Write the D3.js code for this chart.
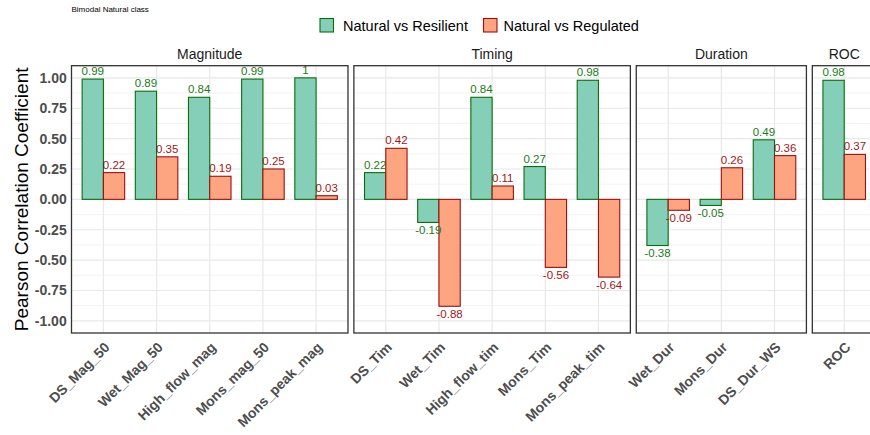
<!DOCTYPE html>
<html>
<head>
<meta charset="utf-8">
<script src="https://cdn.jsdelivr.net/npm/d3@7"></script>
<style>
  html, body { margin: 0; padding: 0; background: #fff; overflow: hidden; }
  svg { display: block; font-family: "Liberation Sans", Arial, sans-serif; }
</style>
</head>
<body>
<svg id="chart" width="870" height="435"></svg>
<script>
// Flow-metric groups (facets) and the metrics in each
const facets = ["Magnitude", "Timing", "Duration", "ROC"];
const metrics = [
  "DS_Mag_50", "Wet_Mag_50", "High_flow_mag", "Mons_mag_50", "Mons_peak_mag",
  "DS_Tim", "Wet_Tim", "High_flow_tim", "Mons_Tim", "Mons_peak_tim",
  "Wet_Dur", "Mons_Dur", "DS_Dur_WS",
  "ROC"
];
const metricFacet = [
  "Magnitude", "Magnitude", "Magnitude", "Magnitude", "Magnitude",
  "Timing", "Timing", "Timing", "Timing", "Timing",
  "Duration", "Duration", "Duration",
  "ROC"
];
// Pearson correlation coefficients
const seriesNames = ["Natural vs Resilient", "Natural vs Regulated"];
const resilient = [0.99, 0.89, 0.84, 0.99, 1, 0.22, -0.19, 0.84, 0.27, 0.98, -0.38, -0.05, 0.49, 0.98];
const regulated = [0.22, 0.35, 0.19, 0.25, 0.03, 0.42, -0.88, 0.11, -0.56, -0.64, -0.09, 0.26, 0.36, 0.37];
const yTicks = [-1, -0.75, -0.5, -0.25, 0, 0.25, 0.5, 0.75, 1];
const yMinor = [-0.875, -0.625, -0.375, -0.125, 0.125, 0.375, 0.625, 0.875];

const fills = ["#85ceb7", "#fda481"];
const strokes = ["#0a6e0a", "#9b1010"];
const labelColors = ["#1b7a1b", "#a01818"];

const svg = d3.select("#chart");

// Layout
const panelTop = 65.7, panelBottom = 333;
const firstLeft = 71.5, panelGap = 5.9, unit = 53.17;

const y = d3.scaleLinear().domain([-1.1, 1.1]).range([panelBottom, panelTop]);

// Title
svg.append("text")
  .attr("x", 71.5).attr("y", 11.7)
  .attr("font-size", 8).attr("fill", "#000")
  .text("Bimodal Natural class");

// Legend
const legendItems = [
  { key: 320, text: 343 },
  { key: 483.5, text: 503.5 }
];
seriesNames.forEach((s, i) => {
  svg.append("rect")
    .attr("x", legendItems[i].key).attr("y", 18.5)
    .attr("width", 13.5).attr("height", 13.5)
    .attr("fill", fills[i]).attr("stroke", strokes[i]).attr("stroke-width", 1.1);
  svg.append("text")
    .attr("x", legendItems[i].text).attr("y", 30.5)
    .attr("font-size", 14.5).attr("fill", "#000")
    .text(s);
});

// Y axis title
svg.append("text")
  .attr("transform", `translate(27.5,${(panelTop + panelBottom) / 2}) rotate(-90)`)
  .attr("text-anchor", "middle")
  .attr("font-size", 19).attr("fill", "#000")
  .text("Pearson Correlation Coefficient");

// Y axis tick labels
const yAxis = d3.axisLeft(y).tickValues(yTicks).tickSize(0).tickPadding(4.8)
  .tickFormat(d => (d < 0 ? "-" : "") + d3.format(".2f")(Math.abs(d)));
const yAxisG = svg.append("g").attr("transform", `translate(${firstLeft},0)`).call(yAxis);
yAxisG.select(".domain").remove();
yAxisG.selectAll("text")
  .attr("font-family", "'Liberation Sans', Arial, sans-serif")
  .attr("font-size", 14).attr("font-weight", "bold").attr("fill", "#4d4d4d");

// Panels
let left = firstLeft;
facets.forEach(facet => {
  const idx = metrics.map((m, i) => i).filter(i => metricFacet[i] === facet);
  const cats = idx.map(i => metrics[i]);
  const width = unit * (cats.length + 0.2);
  const x = d3.scaleBand().domain(cats).range([left, left + width]).paddingInner(0.2).paddingOuter(0.2);
  const xSub = d3.scaleBand().domain(seriesNames).range([0, x.bandwidth()]);

  const g = svg.append("g");
  const clipId = "clip-" + facet;
  g.append("clipPath").attr("id", clipId)
    .append("rect").attr("x", left).attr("y", panelTop).attr("width", width).attr("height", panelBottom - panelTop);

  const inner = g.append("g").attr("clip-path", `url(#${clipId})`);

  // minor gridlines
  inner.selectAll("line.minor").data(yMinor).join("line")
    .attr("x1", left).attr("x2", left + width)
    .attr("y1", d => y(d)).attr("y2", d => y(d))
    .attr("stroke", "#f0f0f0").attr("stroke-width", 0.8);
  // major gridlines
  inner.selectAll("line.major").data(yTicks).join("line")
    .attr("x1", left).attr("x2", left + width)
    .attr("y1", d => y(d)).attr("y2", d => y(d))
    .attr("stroke", "#e8e8e8").attr("stroke-width", 1.2);
  inner.selectAll("line.vmajor").data(cats).join("line")
    .attr("x1", d => x(d) + x.bandwidth() / 2).attr("x2", d => x(d) + x.bandwidth() / 2)
    .attr("y1", panelTop).attr("y2", panelBottom)
    .attr("stroke", "#e8e8e8").attr("stroke-width", 1.2);

  // bars and value labels
  const rows = [];
  idx.forEach(i => {
    rows.push({ m: metrics[i], s: 0, v: resilient[i] });
    rows.push({ m: metrics[i], s: 1, v: regulated[i] });
  });
  inner.selectAll("rect.bar").data(rows).join("rect")
    .attr("x", d => x(d.m) + xSub(seriesNames[d.s]))
    .attr("width", xSub.bandwidth())
    .attr("y", d => Math.min(y(d.v), y(0)))
    .attr("height", d => Math.abs(y(d.v) - y(0)))
    .attr("fill", d => fills[d.s])
    .attr("stroke", d => strokes[d.s])
    .attr("stroke-width", 1.1);

  g.selectAll("text.val").data(rows).join("text")
    .attr("x", d => x(d.m) + xSub(seriesNames[d.s]) + xSub.bandwidth() / 2)
    .attr("y", d => d.v >= 0 ? y(d.v) - 4 : y(d.v) + 11.6)
    .attr("text-anchor", "middle")
    .attr("font-size", 11.5)
    .attr("fill", d => labelColors[d.s])
    .text(d => (d.v < 0 ? "-" : "") + d3.format(".2~f")(Math.abs(d.v)));

  // panel border
  g.append("rect")
    .attr("x", left).attr("y", panelTop).attr("width", width).attr("height", panelBottom - panelTop)
    .attr("fill", "none").attr("stroke", "#333333").attr("stroke-width", 1.3);

  // strip label
  g.append("text")
    .attr("x", left + width / 2).attr("y", 59)
    .attr("text-anchor", "middle").attr("font-size", 14).attr("fill", "#1a1a1a")
    .text(facet);

  // x tick labels
  const xAxis = d3.axisBottom(x).tickSize(0).tickPadding(0);
  const xg = g.append("g").attr("transform", `translate(0,${panelBottom})`).call(xAxis);
  xg.select(".domain").remove();
  xg.selectAll("text")
    .attr("font-family", "'Liberation Sans', Arial, sans-serif")
    .attr("font-size", 14).attr("font-weight", "bold").attr("fill", "#4d4d4d")
    .attr("text-anchor", "end")
    .attr("y", 0)
    .attr("transform", "translate(0,8) rotate(-45)")
    .attr("dy", "0.72em");

  left += width + panelGap;
});
</script>
</body>
</html>
